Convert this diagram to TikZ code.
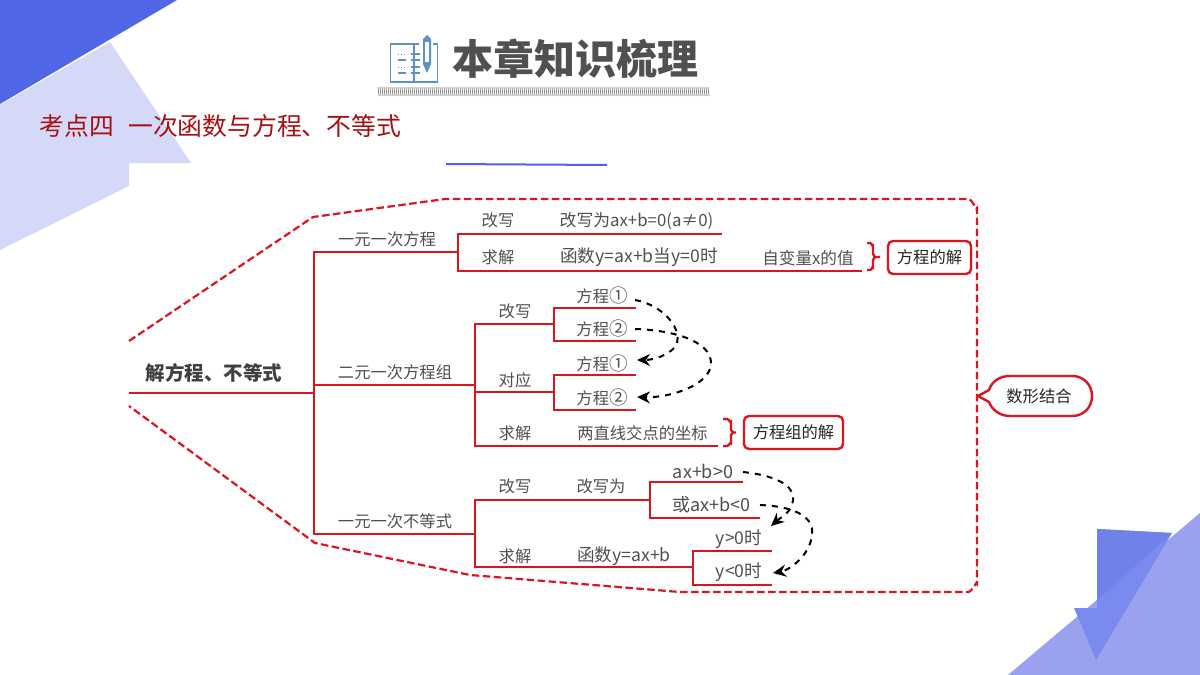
\documentclass[tikz,border=0pt]{standalone}
\usepackage{fontspec}
\setmainfont{Noto Sans CJK SC}
\usetikzlibrary{arrows.meta}
\definecolor{brred}{HTML}{DC1420}
\definecolor{txtgray}{HTML}{505050}
\definecolor{topblue}{HTML}{4F67E6}
\definecolor{palebl}{HTML}{D3D9F7}
\definecolor{midbl}{HTML}{9AA2F0}
\definecolor{deepbl}{HTML}{7A8AEE}
\definecolor{deepbl2}{HTML}{6F82EA}
\definecolor{darkred}{HTML}{A80F12}
\definecolor{iconbl}{HTML}{5B93C4}
\newcommand{\circnum}[1]{{\fontsize{18.5}{16}\selectfont #1}}
\tikzset{
  x=1pt,y=-1pt,
  lbl/.style={font=\fontsize{16.3}{16}\selectfont,text=txtgray,inner sep=0pt},
  wide/.style={lbl,font=\fontsize{17.6}{16}\selectfont},
  branch/.style={draw=brred,line width=2.4pt},
  redbox/.style={draw=brred,line width=2.4pt,rounded corners=5pt,text=black!85,font=\fontsize{16.3}{16}\selectfont,inner sep=0pt},
  boundary/.style={draw=brred,line width=2.2pt,dash pattern=on 7.5pt off 3.5pt},
  flow/.style={draw=black,line width=2pt,dash pattern=on 6pt off 6pt,-{Stealth[length=13pt,width=12pt]}},
}
\begin{document}
\begin{tikzpicture}
\useasboundingbox (0,0) rectangle (1200,675);
\fill[white] (0,0) rectangle (1200,675);
% corner decoration
\fill[palebl] (0,105) -- (110,42) -- (191,163) -- (129,163) -- (129,186) -- (0,250) -- cycle;
\fill[topblue] (0,0) -- (177,0) -- (0,104) -- cycle;
\fill[midbl] (1008,675) -- (1200,513) -- (1200,675) -- cycle;
\fill[deepbl] (1097,529) -- (1172,533) -- (1096,660) -- (1074,608) -- (1097,608) -- cycle;
\fill[deepbl2] (1097,529) -- (1172,533) -- (1097,600) -- cycle;
% heading icon
\draw[iconbl,line width=1.5pt] (419,44) -- (390.5,44) -- (390.5,82) -- (437.5,82) -- (437.5,44) -- (433,44);
\draw[iconbl,line width=1.5pt] (414,44) -- (414,82);
\fill[iconbl] (423,39) -- (427,35) -- (431,39) -- (431,64) -- (427,73) -- (423,64) -- cycle;
\fill[white] (425,42) rectangle (429,62);
\foreach \yy in {54,67}{\draw[iconbl,line width=1pt,dotted] (398,\yy) -- (406,\yy);}
\foreach \yy in {60,73}{\draw[iconbl,line width=1.4pt] (398,\yy) -- (406,\yy);}
\foreach \yy in {54,60,67,73}{\draw[iconbl,line width=1.2pt] (411,\yy) -- (420,\yy);}
\node (title) at (575,59) [font=\bfseries\fontsize{41}{41}\selectfont,text=txtgray,inner sep=0pt] {本章知识梳理};
\foreach \xx in {378,380,...,708}{\draw[gray!90,line width=0.8pt] (\xx,87) -- (\xx+1,96);}
\node (sub) at (220.5,126) [font=\fontsize{24.8}{25}\selectfont,text=darkred,inner sep=0pt] {考点四\hspace{14pt}一次函数与方程、不等式};
\draw[draw=blue!65!white,line width=2pt] (446,164) -- (607,165);
% boundary
\draw[boundary] (129,341) -- (313,217) -- (445,199) -- (968,199) to[out=0,in=-90] (977,208) -- (977,584) to[out=90,in=0] (968,592) -- (680,592) -- (470,575) -- (315,543) -- (129,406);
% tree
\node (root) at (214,373) [font=\bfseries\fontsize{19.5}{20}\selectfont,text=black!75,inner sep=0pt] {解方程、不等式};
\draw[branch] (129,393) -- (314,393);
\draw[branch] (458,252) -- (314,252) -- (314,534) -- (475,534);
\draw[branch] (314,385) -- (475,385);
\node (a) at (387,239) [lbl] {一元一次方程};
\node (b) at (395,372) [lbl] {二元一次方程组};
\node (c) at (395,521) [lbl] {一元一次不等式};
% group 1
\draw[branch] (722,234) -- (458,234) -- (458,271) -- (862,271);
\node (a1) at (498,220) [lbl] {改写};
\node (a2) at (636.5,221) [lbl,font=\fontsize{16.8}{16}\selectfont] {改写为ax+b=0(a≠0)};
\node (a3) at (498,257) [lbl] {求解};
\node (a4) at (639,257) [wide] {函数y=ax+b当y=0时};
\node (a5) at (808,258) [lbl,font=\fontsize{16.6}{16}\selectfont] {自变量x的值};
\draw[branch] (867,243) -- (870,243) to[out=0,in=-90] (873,246) -- (873,254) -- (875,257) -- (880,257) -- (875,257) -- (873,260) -- (873,267) to[out=90,in=0] (870,270) -- (867,270);
\node (sol1) at (929.5,257.5) [redbox,minimum width=83pt,minimum height=33pt] {方程的解};
% group 2
\draw[branch] (554,324) -- (475,324) -- (475,446) -- (718,446);
\draw[branch] (636,308) -- (554,308) -- (554,341) -- (636,341);
\draw[branch] (475,392) -- (554,392);
\draw[branch] (636,375) -- (554,375) -- (554,410) -- (636,410);
\node (b1) at (515,311) [lbl] {改写};
\node (b2) at (515,380) [lbl] {对应};
\node (b3) at (515,433) [lbl] {求解};
\node (e1) at (602,295) [lbl] {方程\circnum{①}};
\node (e2) at (602,328) [lbl] {方程\circnum{②}};
\node (e3) at (602,363) [lbl] {方程\circnum{①}};
\node (e4) at (602,397) [lbl] {方程\circnum{②}};
\node (b4) at (642.5,433) [lbl] {两直线交点的坐标};
\draw[branch] (723,419) -- (727,419) to[out=0,in=-90] (731,422) -- (731,430) -- (733,432.5) -- (736,432.5) -- (733,432.5) -- (731,435) -- (731,443) to[out=90,in=0] (727,446) -- (723,446);
\node (sol2) at (793.5,432.5) [redbox,minimum width=99pt,minimum height=33pt] {方程组的解};
\coordinate (f1) at (635,300);
\coordinate (f2) at (635,329);
\draw[flow] (f1) .. controls (668,306) and (688,337) .. (672,350) .. controls (662,358) and (650,360) .. (637,360);
\draw[flow] (f2) .. controls (670,330) and (712,340) .. (711,364) .. controls (710,385) and (670,398) .. (637,397);
% group 3
\draw[branch] (650,500) -- (475,500) -- (475,567) -- (693,567);
\draw[branch] (743,482) -- (650,482) -- (650,518) -- (760,518);
\draw[branch] (772,551) -- (693,551) -- (693,585) -- (772,585);
\node (c1) at (515,486) [lbl] {改写};
\node (c2) at (601,486) [lbl] {改写为};
\node (c3) at (515,556) [lbl] {求解};
\node (c4) at (624,556) [wide] {函数y=ax+b};
\node (g1) at (703,471) [wide,font=\fontsize{18}{16}\selectfont] {ax+b>0};
\node (g2) at (711.5,505) [wide,font=\fontsize{18}{16}\selectfont] {或ax+b<0};
\node (g3) at (739,539) [wide] {y>0时};
\node (g4) at (739,572) [wide] {y<0时};
\coordinate (h1) at (743,472);
\coordinate (h2) at (760,505);
\draw[flow] (h1) .. controls (780,476) and (800,488) .. (791,507) .. controls (788,514) and (780,518) .. (771,526);
\draw[flow] (h2) .. controls (790,506) and (815,515) .. (812,535) .. controls (810,555) and (790,570) .. (773,573);
% right callout
\node (shape) at (1039,396) [font=\fontsize{16.3}{16}\selectfont,text=black!85,inner sep=0pt] {数形结合};
\draw[branch,line join=round] (978,396) -- (989,390) .. controls (992,381) and (1000,376) .. (1010,376) -- (1072,376) .. controls (1084,376) and (1092,385) .. (1092,396) .. controls (1092,407) and (1084,416) .. (1072,416) -- (1010,416) .. controls (1000,416) and (992,410) .. (989,402) -- cycle;
\end{tikzpicture}
\end{document}
